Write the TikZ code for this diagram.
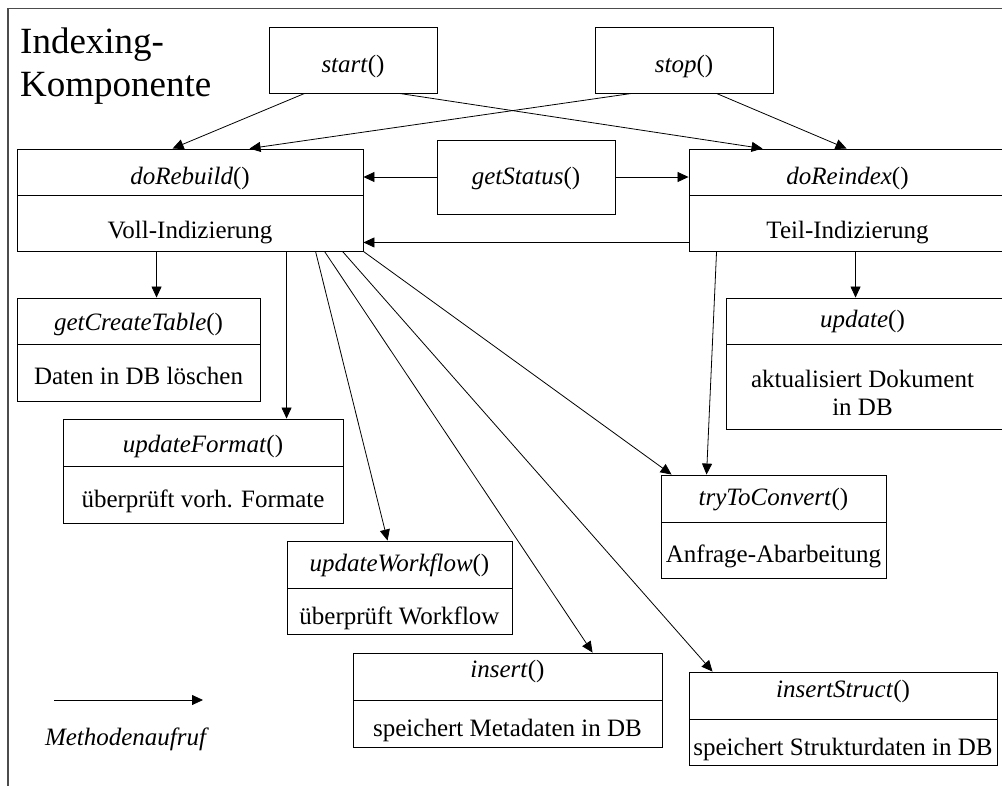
\documentclass[tikz,border=0pt]{standalone}
\usepackage{fontspec}
\setmainfont{Liberation Serif}
\usetikzlibrary{arrows.meta,fit}

\tikzset{
  box/.style={draw, line width=0.9pt, inner sep=0pt},
  divider/.style={line width=0.9pt},
  lbl/.style={inner sep=0pt, anchor=base, font=\fontsize{25}{28}\selectfont},
  titlelbl/.style={inner sep=0pt, anchor=base west, font=\fontsize{37}{43}\selectfont},
  call/.style={line width=0.8pt, -{Triangle[length=11pt,width=10pt]}},
  frame/.style={line width=1.2pt, black!70},
}

% class box: name, x1, y1, x2, y2, y of the divider line
\newcommand\umlbox[6]{%
  \node[box, fit={(#2,#3) (#4,#5)}] (#1) {};
  \draw[divider] ({#2},{#6}) -- ({#4},{#6});
}

\begin{document}
\begin{tikzpicture}[x=1pt, y=-1pt]
\useasboundingbox (0,0) rectangle (1002,785);

% component frame
\draw[frame] (8,800) -- (8,8.5) -- (1020,8.5);

\node[titlelbl] (title1) at (20,53) {Indexing-};
\node[titlelbl] (title2) at (20,96) {Komponente};

% control methods
\node[box, fit={(269,27) (437,93)}] (start) {};
\node[lbl] (start-t) at (353,72) {\textit{start}()};
\node[box, fit={(595,27) (773,93)}] (stop) {};
\node[lbl] (stop-t) at (684,72) {\textit{stop}()};
\node[box, fit={(437,140) (615,214)}] (status) {};
\node[lbl] (status-t) at (526,184) {\textit{getStatus}()};

% indexing methods
\umlbox{rebuild}{17}{149}{363}{251}{195}
\node[lbl] (rebuild-t) at (190,184) {\textit{doRebuild}()};
\node[lbl] (rebuild-b) at (190,238) {Voll-Indizierung};

\umlbox{reindex}{689}{149}{1006}{251}{195}
\node[lbl] (reindex-t) at (847.5,184) {\textit{doReindex}()};
\node[lbl] (reindex-b) at (847.5,238) {Teil-Indizierung};

\umlbox{gct}{17}{298}{260}{401}{344}
\node[lbl] (gct-t) at (138.5,330) {\textit{getCreateTable}()};
\node[lbl] (gct-b) at (138.5,384) {Daten in DB löschen};

\umlbox{ufmt}{63}{419}{343}{523}{466}
\node[lbl] (ufmt-t) at (203,452) {\textit{updateFormat}()};
\node[lbl] (ufmt-b) at (203,507) {überprüft vorh. Formate};

\umlbox{uwf}{287}{541}{512}{634}{588}
\node[lbl] (uwf-t) at (399.5,571) {\textit{updateWorkflow}()};
\node[lbl] (uwf-b) at (399.5,624) {überprüft Workflow};

\umlbox{ins}{353}{653}{662}{747}{700}
\node[lbl] (ins-t) at (507.5,677) {\textit{insert}()};
\node[lbl] (ins-b) at (507.5,736) {speichert Metadaten in DB};

\umlbox{inss}{689}{672}{997}{765}{719}
\node[lbl] (inss-t) at (843,697) {\textit{insertStruct}()};
\node[lbl] (inss-b) at (843,755) {speichert Strukturdaten in DB};

\umlbox{upd}{726}{298}{1003}{429}{344}
\node[lbl] (upd-t) at (862.5,327) {\textit{update}()};
\node[lbl] (upd-b1) at (862.5,387) {aktualisiert Dokument};
\node[lbl] (upd-b2) at (862.5,415) {in DB};

\umlbox{ttc}{661}{475}{886}{578}{522}
\node[lbl] (ttc-t) at (773.5,505) {\textit{tryToConvert}()};
\node[lbl] (ttc-b) at (773.5,562) {Anfrage-Abarbeitung};

% method calls
\draw[call] ([xshift=36pt]start.south west) -- ([xshift=156pt]rebuild.north west);
\draw[call] ([xshift=131pt]start.south west) -- ([xshift=74pt]reindex.north west);
\draw[call] ([xshift=37pt]stop.south west) -- ([xshift=233pt]rebuild.north west);
\draw[call] ([xshift=122pt]stop.south west) -- ([xshift=158pt]reindex.north west);
\draw[call] (status.west) -- (rebuild.east |- status.west);
\draw[call] (status.east) -- (reindex.west |- status.east);
\draw[call] ([yshift=9pt]reindex.south west) -- ([yshift=9pt]rebuild.south east);

\draw[call] ([xshift=140pt]rebuild.south west) coordinate (r1) -- (r1 |- gct.north);
\draw[call] ([xshift=270pt]rebuild.south west) coordinate (r2) -- (r2 |- ufmt.north);
\draw[call] ([xshift=299pt]rebuild.south west) -- ([xshift=101pt]uwf.north west);
\draw[call] ([xshift=308pt]rebuild.south west) -- ([xshift=240pt]ins.north west);
\draw[call] ([xshift=326pt]rebuild.south west) -- ([xshift=24pt]inss.north west);
\draw[call] (rebuild.south east) -- ([xshift=11pt]ttc.north west);

\draw[call] ([xshift=167pt]reindex.south west) coordinate (d1) -- (d1 |- upd.north);
\draw[call] ([xshift=28pt]reindex.south west) -- ([xshift=46pt]ttc.north west);

% legend
\coordinate (legA) at (54,700);
\coordinate (legB) at (203,700);
\draw[call] (legA) -- (legB);
\node[lbl] (leg-t) at (127,745) {\textit{Methodenaufruf}};
\end{tikzpicture}
\end{document}
